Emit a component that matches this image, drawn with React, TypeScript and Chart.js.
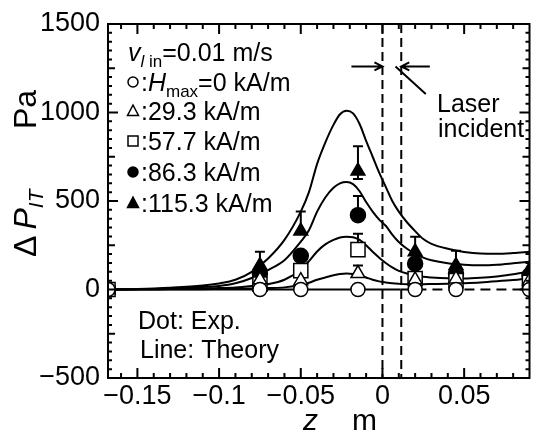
import React, { useEffect, useRef } from 'react';
import { Chart, registerables } from 'chart.js';

Chart.register(...registerables);

// ---------- data ----------
const xTickValues = [-0.15, -0.1, -0.05, 0, 0.05];
const yTickStep = 500;

const zTheory = [-0.168, -0.15, -0.13, -0.11, -0.1, -0.09, -0.08, -0.07, -0.06, -0.05, -0.045, -0.04, -0.035, -0.03, -0.026, -0.022, -0.018, -0.014, -0.01, -0.006, -0.002, 0.002, 0.006, 0.01, 0.015, 0.02, 0.025, 0.03, 0.04, 0.05, 0.06, 0.07, 0.08, 0.09];
const theory115 = [0, 3, 10, 22, 34, 55, 100, 175, 280, 440, 550, 710, 830, 930, 990, 1010, 995, 935, 840, 750, 660, 580, 500, 440, 380, 330, 285, 258, 230, 212, 203, 202, 206, 213];
const theory86 = [0, 2, 6, 14, 20, 35, 65, 110, 165, 270, 335, 440, 520, 575, 600, 607, 595, 555, 494, 440, 395, 360, 310, 268, 230, 202, 180, 165, 148, 140, 137, 140, 148, 157];
const theory57 = [0, 1, 3, 6, 8, 12, 20, 30, 55, 112, 160, 215, 255, 280, 294, 298, 295, 280, 250, 213, 180, 150, 125, 105, 90, 80, 72, 68, 63, 62, 66, 74, 86, 101];
const theory29 = [0, 0, 1, 2, 3, 4, 5, 8, 12, 25, 38, 55, 68, 80, 87, 90, 88, 80, 68, 55, 46, 40, 35, 32, 30, 30, 30, 31, 33, 36, 40, 46, 53, 62];
const zTheory0Solid = [-0.168, 0.011];
const theory0Solid = [0, 0];
const zTheory0Dashed = [0.011, 0.09];
const theory0Dashed = [0, 0];

const zExp = [-0.168, -0.075, -0.05, -0.015, 0.02, 0.045, 0.09];
const exp0 = [0, 0, 0, 0, 0, 0, 0];
const exp29 = [0, 55, 50, 90, 55, 60, 50];
const exp57 = [0, 30, 107, 225, 62, 51, 40];
const exp86 = [0, 90, 190, 420, 146, 90, 79];
const exp115 = [0, 135, 330, 669, 213, 135, 110];
const err115Up = [0, 78, 110, 140, 85, 84, 0];
const err115Down = [0, 0, 0, 45, 0, 0, 0];
const err86Up = [0, 0, 0, 108, 0, 0, 0];
const err57Up = [0, 0, 0, 90, 0, 0, 0];
const err29Up = [0, 0, 0, 45, 0, 0, 0];

const laserEdges = [0, 0.0115];

const legendLabels = [':29.3 kA/m', ':57.7 kA/m', ':86.3 kA/m', ':115.3 kA/m'];

// ---------- helpers ----------
const F = '"Liberation Sans", Arial, Helvetica, sans-serif';

type Run = { t: string; font: string; dy?: number };
function drawRuns(ctx: CanvasRenderingContext2D, x: number, y: number, runs: Run[]) {
  let cx = x;
  for (const r of runs) {
    ctx.font = r.font;
    ctx.fillText(r.t, cx, y + (r.dy || 0));
    cx += ctx.measureText(r.t).width;
  }
  return cx;
}

function pts(xs: number[], ys: number[]) {
  return xs.map((x, i) => ({ x, y: ys[i] }));
}

function drawSymbol(ctx: CanvasRenderingContext2D, kind: string, x: number, y: number) {
  ctx.save();
  ctx.lineWidth = 1.5;
  ctx.strokeStyle = '#000';
  ctx.fillStyle = '#000';
  ctx.beginPath();
  if (kind === 'circle' || kind === 'dot') {
    ctx.arc(x, y, 5, 0, Math.PI * 2);
  } else if (kind === 'tri' || kind === 'ftri') {
    ctx.moveTo(x, y - 6);
    ctx.lineTo(x + 5.5, y + 4.5);
    ctx.lineTo(x - 5.5, y + 4.5);
    ctx.closePath();
  } else if (kind === 'sq') {
    ctx.rect(x - 5, y - 5, 10, 10);
  }
  if (kind === 'dot' || kind === 'ftri') ctx.fill();
  ctx.stroke();
  ctx.restore();
}

const errorSets = [
  { v: exp115, up: err115Up, down: err115Down },
  { v: exp86, up: err86Up, down: exp0 },
  { v: exp57, up: err57Up, down: exp0 },
  { v: exp29, up: err29Up, down: exp0 },
];

const decor = {
  id: 'decor',
  beforeDatasetsDraw(chart: any) {
    const ctx = chart.ctx as CanvasRenderingContext2D;
    const xs = chart.scales.x;
    const ys = chart.scales.y;
    ctx.save();
    ctx.strokeStyle = '#000';
    ctx.lineWidth = 2;
    for (const s of errorSets) {
      zExp.forEach((z, i) => {
        const px = xs.getPixelForValue(z);
        const py = ys.getPixelForValue(s.v[i]);
        if (s.up[i] > 0) {
          const pt = ys.getPixelForValue(s.v[i] + s.up[i]);
          ctx.beginPath();
          ctx.moveTo(px, py);
          ctx.lineTo(px, pt);
          ctx.moveTo(px - 5, pt);
          ctx.lineTo(px + 5, pt);
          ctx.stroke();
        }
        if (s.down[i] > 0) {
          const pb = ys.getPixelForValue(s.v[i] - s.down[i]);
          ctx.beginPath();
          ctx.moveTo(px, py);
          ctx.lineTo(px, pb);
          ctx.moveTo(px - 5, pb);
          ctx.lineTo(px + 5, pb);
          ctx.stroke();
        }
      });
    }
    ctx.restore();
  },
  afterDraw(chart: any) {
    const ctx = chart.ctx as CanvasRenderingContext2D;
    const xs = chart.scales.x;
    const ys = chart.scales.y;
    const area = chart.chartArea;
    const left = area.left;
    const right = area.right;
    const top = area.top;
    const bottom = area.bottom;
    ctx.save();
    ctx.strokeStyle = '#000';
    ctx.fillStyle = '#000';

    // laser dashed lines
    ctx.lineWidth = 2;
    ctx.setLineDash([9, 5]);
    for (const e of laserEdges) {
      const px = xs.getPixelForValue(e);
      ctx.beginPath();
      ctx.moveTo(px, top);
      ctx.lineTo(px, bottom);
      ctx.stroke();
    }
    ctx.setLineDash([]);

    // box
    ctx.lineWidth = 2;
    ctx.strokeRect(left, top, right - left, bottom - top);

    // inward ticks
    ctx.lineWidth = 2;
    for (let k = -16; k <= 9; k++) {
      const px = xs.getPixelForValue(k / 100);
      if (px < left + 1 || px > right - 1) continue;
      const len = Math.abs(k) % 5 === 0 ? 10 : 5;
      ctx.beginPath();
      ctx.moveTo(px, bottom);
      ctx.lineTo(px, bottom - len);
      ctx.moveTo(px, top);
      ctx.lineTo(px, top + len);
      ctx.stroke();
    }
    for (let j = -10; j <= 30; j++) {
      const v = j * 50;
      const py = ys.getPixelForValue(v);
      const len = Math.abs(j) % 10 === 0 ? 10 : Math.abs(j) % 5 === 0 ? 7 : 4;
      ctx.beginPath();
      ctx.moveTo(left, py);
      ctx.lineTo(left + len, py);
      ctx.moveTo(right, py);
      ctx.lineTo(right - len, py);
      ctx.stroke();
    }

    // laser annotation
    const ay = ys.getPixelForValue(1260);
    const x0 = xs.getPixelForValue(laserEdges[0]);
    const x1 = xs.getPixelForValue(laserEdges[1]);
    const la = xs.getPixelForValue(-0.019);
    const ra = xs.getPixelForValue(0.029);
    ctx.lineWidth = 2;
    ctx.beginPath();
    ctx.moveTo(la, ay);
    ctx.lineTo(x0, ay);
    ctx.moveTo(x0 - 8, ay - 4);
    ctx.lineTo(x0, ay);
    ctx.lineTo(x0 - 8, ay + 4);
    ctx.moveTo(ra, ay);
    ctx.lineTo(x1, ay);
    ctx.moveTo(x1 + 8, ay - 4);
    ctx.lineTo(x1, ay);
    ctx.lineTo(x1 + 8, ay + 4);
    ctx.moveTo(xs.getPixelForValue(0.008), ay);
    ctx.lineTo(xs.getPixelForValue(0.0265), ys.getPixelForValue(1105));
    ctx.stroke();

    ctx.textBaseline = 'alphabetic';
    ctx.textAlign = 'left';
    const f25 = `25px ${F}`;
    drawRuns(ctx, 437, 112, [{ t: 'Laser', font: f25 }]);
    drawRuns(ctx, 438, 137, [{ t: 'incident', font: f25 }]);

    // legend
    const lx = 128;
    drawRuns(ctx, lx, 61, [
      { t: 'v', font: `italic 25px ${F}` },
      { t: 'l', font: `italic 17px ${F}`, dy: 6 },
      { t: ' in', font: `17px ${F}`, dy: 6 },
      { t: '=0.01 m/s', font: f25 },
    ]);
    drawSymbol(ctx, 'circle', 133, 82);
    drawRuns(ctx, 141, 91, [
      { t: ':', font: f25 },
      { t: 'H', font: `italic 25px ${F}` },
      { t: 'max', font: `17px ${F}`, dy: 6 },
      { t: '=0 kA/m', font: f25 },
    ]);
    const syms = ['tri', 'sq', 'dot', 'ftri'];
    const rows = [111, 141, 172, 203];
    legendLabels.forEach((lab, i) => {
      drawSymbol(ctx, syms[i], 133, rows[i]);
      drawRuns(ctx, 141, rows[i] + 9, [{ t: lab, font: f25 }]);
    });

    drawRuns(ctx, 138, 329, [{ t: 'Dot: Exp.', font: f25 }]);
    drawRuns(ctx, 140, 358, [{ t: 'Line: Theory', font: f25 }]);

    // x title
    drawRuns(ctx, 303, 430, [{ t: 'z', font: `italic 30px ${F}` }]);
    drawRuns(ctx, 352, 430, [{ t: 'm', font: `30px ${F}` }]);

    // y title
    ctx.save();
    ctx.translate(36, 257);
    ctx.rotate(-Math.PI / 2);
    drawRuns(ctx, 0, 0, [
      { t: 'Δ', font: `32px ${F}` },
      { t: ' ', font: `22px ${F}` },
      { t: 'P', font: `italic 32px ${F}` },
      { t: 'IT', font: `italic 21px ${F}`, dy: 7 },
    ]);
    drawRuns(ctx, 128, 0, [{ t: 'Pa', font: `32px ${F}` }]);
    ctx.restore();

    ctx.restore();
  },
};

function fmt(v: number) {
  return (v < 0 ? '\u2212' : '') + String(Math.abs(v));
}

export default function App() {
  const ref = useRef<HTMLCanvasElement | null>(null);
  useEffect(() => {
    if (!ref.current) return;
    const line = (data: any[], dashed = false) => ({
      type: 'line' as const,
      data,
      showLine: true,
      borderColor: '#000',
      borderWidth: 2,
      pointRadius: 0,
      fill: false,
      cubicInterpolationMode: 'monotone' as const,
      borderDash: dashed ? [10, 6] : [],
      order: 5,
    });
    const marks = (data: any[], style: string, filled: boolean, r: number) => ({
      type: 'scatter' as const,
      data,
      showLine: false,
      pointStyle: style,
      pointRadius: r,
      pointBackgroundColor: filled ? '#000' : '#fff',
      pointBorderColor: '#000',
      pointBorderWidth: 1.5,
      order: 1,
    });
    const chart = new Chart(ref.current, {
      type: 'scatter',
      data: {
        datasets: [
          marks(pts(zExp, exp0), 'circle', false, 7),
          marks(pts(zExp, exp29), 'triangle', false, 8),
          marks(pts(zExp, exp57), 'rect', false, 10),
          marks(pts(zExp, exp86), 'circle', true, 7.5),
          marks(pts(zExp, exp115), 'triangle', true, 8),
          line(pts(zTheory, theory115)),
          line(pts(zTheory, theory86)),
          line(pts(zTheory, theory57)),
          line(pts(zTheory, theory29)),
          line(pts(zTheory0Solid, theory0Solid)),
          line(pts(zTheory0Dashed, theory0Dashed), true),
        ] as any,
      },
      options: {
        animation: false,
        responsive: false,
        devicePixelRatio: 1,
        layout: { padding: { top: 24, right: 1, left: 0, bottom: 0 } },
        plugins: { legend: { display: false }, tooltip: { enabled: false } },
        scales: {
          x: {
            type: 'linear',
            min: -0.168,
            max: 0.09,
            grid: { display: false, drawTicks: false },
            border: { display: false },
            afterBuildTicks: (scale: any) => {
              scale.ticks = xTickValues.map((v) => ({ value: v }));
            },
            afterFit: (scale: any) => {
              scale.height = 57;
              scale.paddingLeft = 0;
              scale.paddingRight = 0;
            },
            ticks: {
              color: '#000',
              padding: 2,
              maxRotation: 0,
              autoSkip: false,
              font: { family: F, size: 27 },
              callback: (v: any) => fmt(Number(v)),
            },
          },
          y: {
            type: 'linear',
            min: -500,
            max: 1500,
            grid: { display: false, drawTicks: false },
            border: { display: false },
            afterFit: (scale: any) => {
              scale.width = 108;
              scale.paddingTop = 0;
              scale.paddingBottom = 0;
            },
            ticks: {
              stepSize: yTickStep,
              color: '#000',
              padding: 8,
              font: { family: F, size: 27 },
              callback: (v: any) => fmt(Number(v)),
            },
          },
        },
      } as any,
      plugins: [decor],
    });
    return () => chart.destroy();
  }, []);
  return (
    <div style={{ position: 'fixed', left: 0, top: 0, width: 541, height: 435, background: '#fff' }}>
      <canvas ref={ref} width={541} height={435} style={{ display: 'block' }} />
    </div>
  );
}
